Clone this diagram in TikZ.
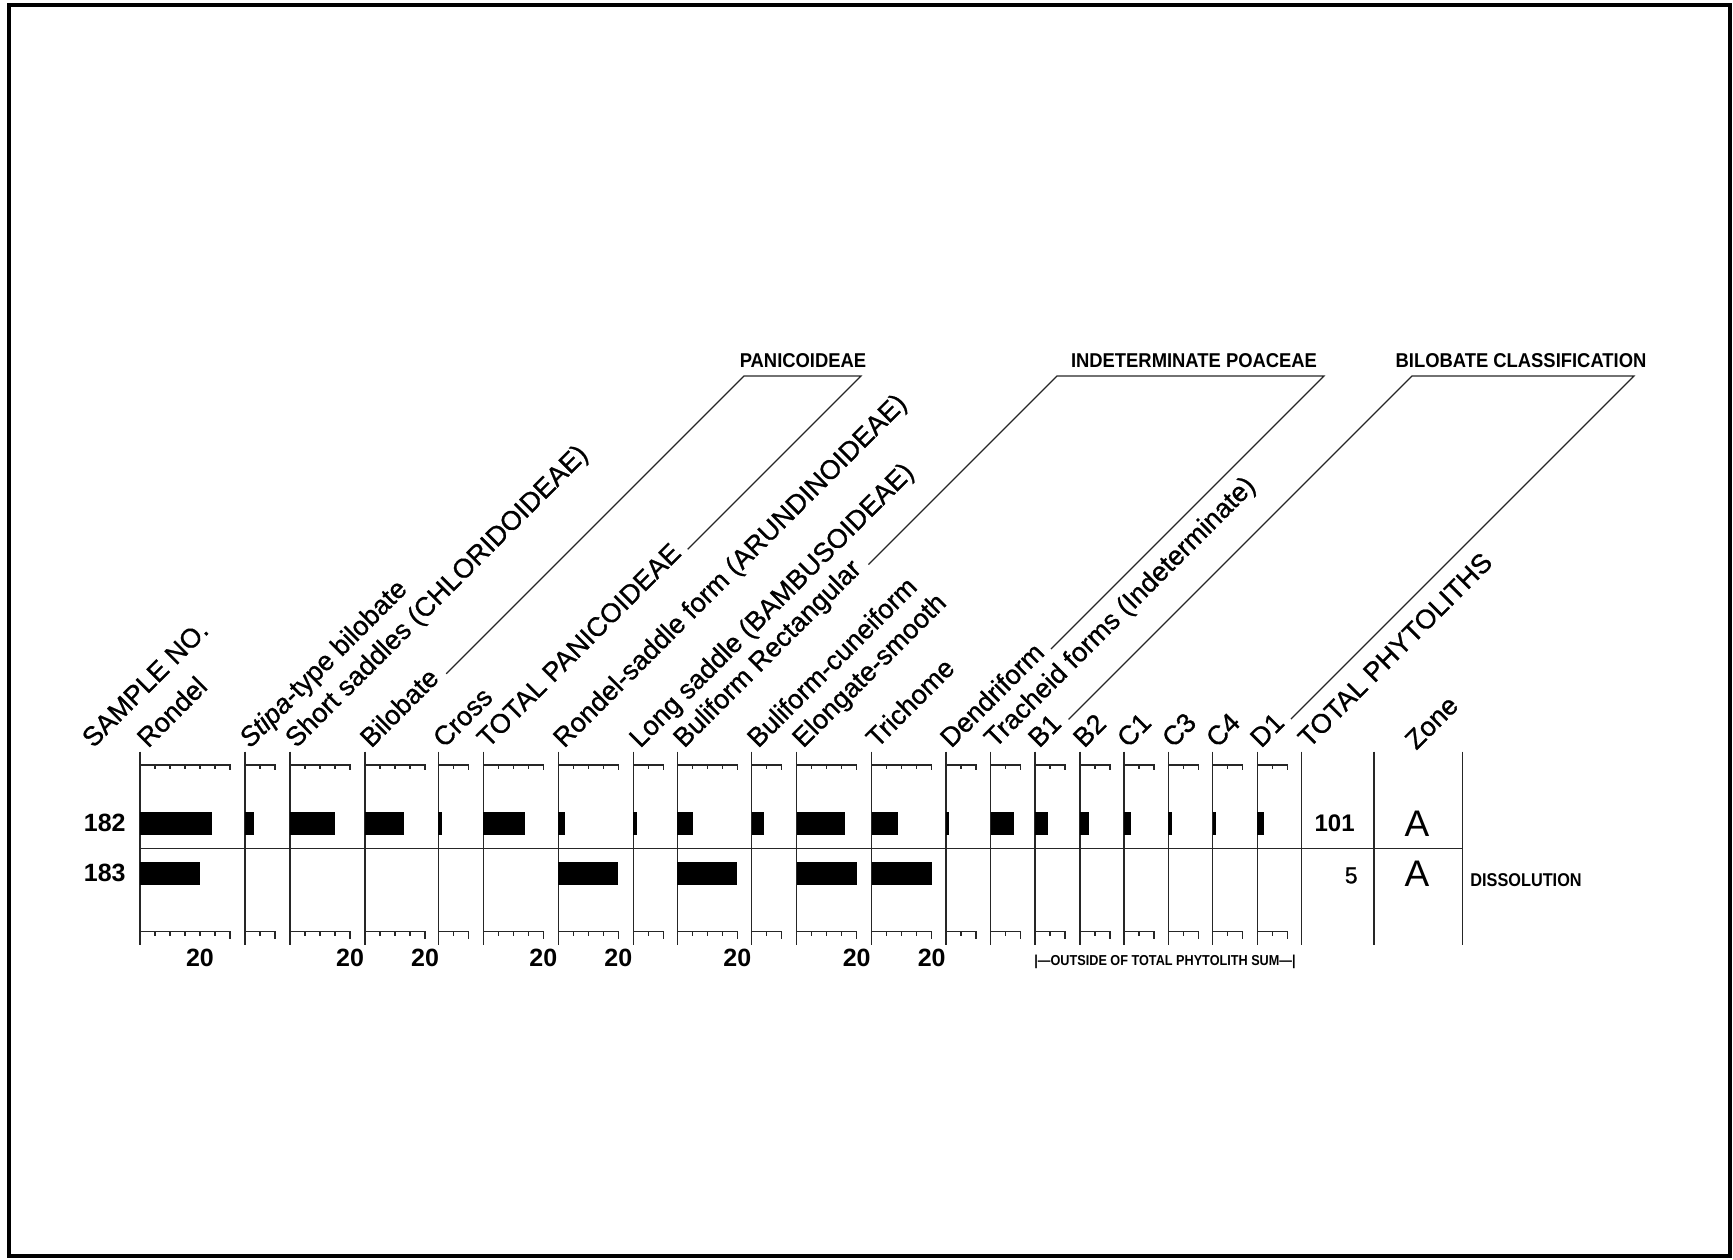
\documentclass[tikz,border=0pt]{standalone}
\usepackage{fontspec}
\setmainfont{Liberation Sans}
\newfontfamily\labfont[FakeBold=0.9]{Liberation Sans}
\newfontfamily\narrowA[FakeStretch=0.92]{Liberation Sans}
\newfontfamily\narrowB[FakeStretch=0.88]{Liberation Sans}
\usetikzlibrary{calc}
\begin{document}
\begin{tikzpicture}[x=0.5pt,y=0.5pt,
  lab/.style={rotate=45,anchor=base west,inner sep=0pt,font=\labfont\fontsize{13.5}{13.5}\selectfont},
  num/.style={inner sep=0pt,font=\bfseries\fontsize{12.5}{12.5}\selectfont},
  colline/.style={line width=0.75pt,black!85},
  brk/.style={line width=0.6pt,black!85},
  grp/.style={inner sep=0pt,anchor=base,font=\narrowA\bfseries\fontsize{10}{10}\selectfont},
  small/.style={inner sep=0pt,anchor=base west,font=\narrowB\bfseries\fontsize{9.25}{9.25}\selectfont},
]
\useasboundingbox (0,0) rectangle (1733,-1259);
\draw[line width=1.65pt] (9,-5) rectangle (1730,-1256);

% axes of the data columns
\foreach \x/\w in {140/90,245/30,290/60,365/60,438.3/30,483.3/60,558.3/60,633.3/30,677.3/60,751.7/30,796.7/60,871.7/60,946/30,990.7/30,1035/30,1080/30,1124/30,1168.3/30,1212.7/30,1257.3/30}{
  \draw[colline] (\x,-751.7) -- (\x,-945);
  \draw[colline] (\x,-765) -- ++(\w,0) -- ++(0,-5);
  \draw[colline] (\x,-931.7) -- ++(\w,0) -- ++(0,-7);
  \pgfmathtruncatemacro\n{\w/15-1}
  \foreach \k in {1,...,\n}{
    \draw[colline] (\x+15*\k,-765) -- ++(0,-3.5);
    \draw[colline] (\x+15*\k,-931.7) -- ++(0,-4.5);
  }
}
\foreach \x in {1301.7,1374,1462.3}{
  \draw[colline] (\x,-751.7) -- (\x,-945);
}
\draw[colline] (140,-848.3) -- (1462.3,-848.3);

% bars, sample 182
\foreach \x/\v in {140/71.5,245/9,290/44.5,365/38.5,438.3/3.4,483.3/42,558.3/6.5,633.3/3.4,677.3/15.5,751.7/12.3,796.7/48,871.7/26.6,946/3.3,990.7/23.6,1035/13.3,1080/9.3,1124/6.7,1168.3/3.4,1212.7/3.3,1257.3/6.7}{
  \fill (\x,-811.7) rectangle ++(\v,-23.3);
}
% bars, sample 183
\foreach \x in {140,558.3,677.3,796.7,871.7}{
  \fill (\x,-861.7) rectangle ++(60,-23.3);
}

% scale labels
\foreach \x [count=\c] in {140,290,365,483.3,558.3,677.3,796.7,871.7}{
  \node[num,anchor=base] (tw\c) at (\x+60,-966) {20};
}

% rotated column labels
\node[lab] (lS) at (93,-749) {SAMPLE NO.};
\node[lab] (l1) at (148,-749) {Rondel};
\node[lab] (l2) at (250,-749) {\textit{Stipa}-type bilobate};
\node[lab] (l3) at (296,-749) {Short saddles (CHLORIDOIDEAE)};
\node[lab] (l4) at (371,-749) {Bilobate};
\node[lab] (l5) at (444,-749) {Cross};
\node[lab] (l6) at (488,-749) {TOTAL PANICOIDEAE};
\node[lab] (l7) at (564,-749) {Rondel-saddle form (ARUNDINOIDEAE)};
\node[lab] (l8) at (640,-749) {Long saddle (BAMBUSOIDEAE)};
\node[lab] (l9) at (684,-749) {Buliform Rectangular};
\node[lab] (l10) at (758,-749) {Buliform-cuneiform};
\node[lab] (l11) at (803,-749) {Elongate-smooth};
\node[lab] (l12) at (877,-749) {Trichome};
\node[lab] (l13) at (951,-749) {Dendriform};
\node[lab] (l14) at (995,-749) {Tracheid forms (Indeterminate)};
\node[lab] (l15) at (1039,-749) {B1};
\node[lab] (l16) at (1084,-749) {B2};
\node[lab] (l17) at (1128,-749) {C1};
\node[lab] (l18) at (1173,-749) {C3};
\node[lab] (l19) at (1217,-749) {C4};
\node[lab] (l20) at (1261,-749) {D1};
\node[lab] (l21) at (1309,-749) {TOTAL PHYTOLITHS};
\node[lab] (l22) at (1416,-751) {Zone};

% group headers
\node[grp] (gP) at (803,-367) {PANICOIDEAE};
\node[grp] (gI) at (1194,-367) {INDETERMINATE POACEAE};
\node[grp] (gB) at (1521,-367) {BILOBATE CLASSIFICATION};

% bracket end points (continuing each label's baseline)
\path let \p1=($(l4.base east)+(45:8)$) in (\p1) coordinate (pa) (\x1-188pt-\y1,-188pt) coordinate (pat);
\path let \p1=($(l6.base east)+(45:7)$) in (\p1) coordinate (pb) (\x1-188pt-\y1,-188pt) coordinate (pbt);
\path let \p1=($(l9.base east)+(45:8)$) in (\p1) coordinate (ia) (\x1-188pt-\y1,-188pt) coordinate (iat);
\path let \p1=($(l13.base east)+(45:7)$) in (\p1) coordinate (ib) (\x1-188pt-\y1,-188pt) coordinate (ibt);
\path let \p1=($(l15.base east)+(45:8)$) in (\p1) coordinate (ba) (\x1-188pt-\y1,-188pt) coordinate (bat);
\path let \p1=($(l20.base east)+(45:7)$) in (\p1) coordinate (bb) (\x1-188pt-\y1,-188pt) coordinate (bbt);
\draw[brk] (pa) -- (pat) -- (pbt) -- (pb);
\draw[brk] (ia) -- (iat) -- (ibt) -- (ib);
\draw[brk] (ba) -- (bat) -- (bbt) -- (bb);

% row entries
\node[num,anchor=base east] (s182) at (126,-831.5) {182};
\node[num,anchor=base east] (s183) at (126,-881.5) {183};
\node[inner sep=0pt,anchor=base east,font=\bfseries\fontsize{12}{12}\selectfont] (t101) at (1355,-831.7) {101};
\node[inner sep=0pt,anchor=base east,font=\labfont\fontsize{11.5}{11.5}\selectfont] (t5) at (1358,-883.3) {5};
\node[inner sep=0pt,anchor=base,font=\fontsize{18.5}{18.5}\selectfont] (z1) at (1417,-836.7) {A};
\node[inner sep=0pt,anchor=base,font=\fontsize{18.5}{18.5}\selectfont] (z2) at (1417,-886.7) {A};
\node[small] (dis) at (1470,-886.7) {DISSOLUTION};
\node[inner sep=0pt,anchor=base west,font=\narrowB\bfseries\fontsize{7.2}{7.2}\selectfont] (outs) at (1034,-965) {|—OUTSIDE OF TOTAL PHYTOLITH SUM—|};
\end{tikzpicture}
\end{document}
